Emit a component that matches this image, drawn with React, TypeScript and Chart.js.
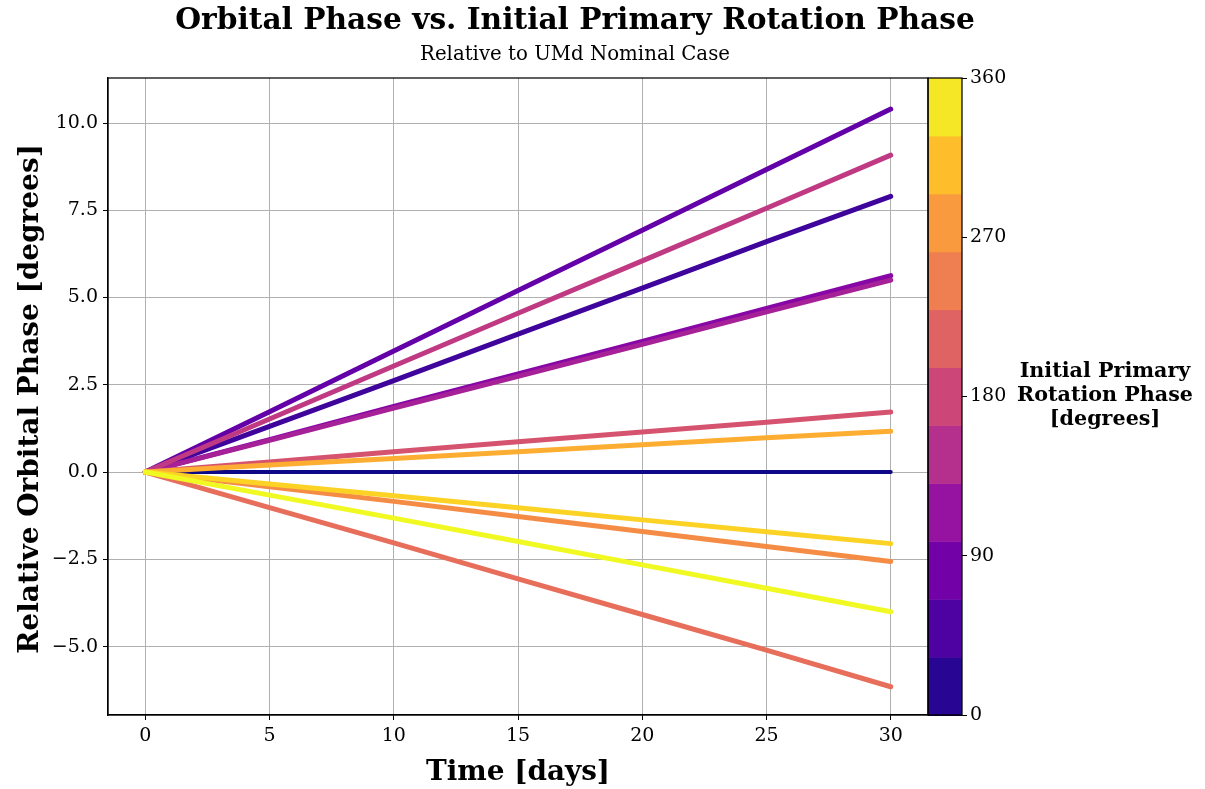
import React, { useEffect, useRef } from "react";
import { Chart, registerables } from "chart.js";

Chart.register(...registerables);

// ---- data ----
const days = [0, 5, 10, 15, 20, 25, 30];

const phase00 = [0, 0, 0, 0, 0, 0, 0];
const phase033 = [0, 1.31, 2.62, 3.95, 5.27, 6.6, 7.9];
const phase065 = [0, 1.73, 3.47, 5.2, 6.93, 8.67, 10.4];
const phase098 = [0, 0.93, 1.88, 2.81, 3.74, 4.69, 5.63];
const phase131 = [0, 0.91, 1.83, 2.74, 3.66, 4.59, 5.5];
const phase164 = [0, 1.52, 3.04, 4.55, 6.05, 7.56, 9.08];
const phase196 = [0, 0.29, 0.58, 0.87, 1.15, 1.43, 1.72];
const phase229 = [0, -1.02, -2.03, -3.06, -4.08, -5.1, -6.15];
const phase262 = [0, -0.42, -0.84, -1.27, -1.7, -2.13, -2.56];
const phase295 = [0, 0.2, 0.39, 0.58, 0.78, 0.98, 1.17];
const phase327 = [0, -0.34, -0.68, -1.02, -1.37, -1.71, -2.05];
const phase360 = [0, -0.66, -1.32, -1.99, -2.66, -3.33, -4.0];

const seriesNames = ["0", "32.7", "65.5", "98.2", "130.9", "163.6", "196.4", "229.1", "261.8", "294.5", "327.3", "360"];
const lineColors = ["#0d0887", "#3e049c", "#6300a7", "#8606a6", "#a62098", "#c03a83", "#d5536f", "#e76e5b", "#f58c46", "#fdad32", "#fcd225", "#f0f921"];

const cbBounds = [0, 32.73, 65.45, 98.18, 130.91, 163.64, 196.36, 229.09, 261.82, 294.55, 327.27, 360];
const cbColors = ["#280592", "#4e02a2", "#7201a8", "#9613a1", "#b52f8c", "#cc4778", "#e06363", "#ef7e50", "#f99a3e", "#febd2a", "#f5e726"];
const cbTicks = [0, 90, 180, 270, 360];

const titleText = "Orbital Phase vs. Initial Primary Rotation Phase";
const subtitleText = "Relative to UMd Nominal Case";
const xTitle = "Time [days]";
const yTitle = "Relative Orbital Phase [degrees]";
const cbTitle = ["Initial Primary", "Rotation Phase", "[degrees]"];

const FONT = "'DejaVu Serif', 'Liberation Serif', serif";

export default function App() {
  const ref = useRef<HTMLCanvasElement>(null);

  useEffect(() => {
    const canvas = ref.current;
    if (!canvas) return;
    const allSeries = [phase00, phase033, phase065, phase098, phase131, phase164, phase196, phase229, phase262, phase295, phase327, phase360];

    const datasets = allSeries.map((vals, i) => ({
      label: seriesNames[i],
      data: days.map((d, j) => ({ x: d, y: vals[j] })),
      borderColor: lineColors[i],
      backgroundColor: lineColors[i],
      borderWidth: i === 0 ? 4 : 5,
      pointRadius: 0,
      fill: false,
      tension: 0,
      order: allSeries.length - i,
      borderCapStyle: "round" as const,
      borderJoinStyle: "round" as const,
    }));

    const fitSize = (ctx: CanvasRenderingContext2D, text: string, weight: string, target: number) => {
      ctx.font = `${weight} 100px ${FONT}`;
      const w = ctx.measureText(text).width;
      return (100 * target) / w;
    };

    const deco = {
      id: "deco",
      afterDraw(chart: any) {
        const { ctx, chartArea: a } = chart;
        const cb = chart.scales.cb;
        ctx.save();
        const x0 = a.right;
        const x1 = a.right + 34;
        for (let i = 0; i < cbColors.length; i++) {
          const yTop = cb.getPixelForValue(cbBounds[i + 1]);
          const yBot = cb.getPixelForValue(cbBounds[i]);
          ctx.fillStyle = cbColors[i];
          ctx.fillRect(x0, yTop, x1 - x0, yBot - yTop + 0.5);
        }
        ctx.strokeStyle = "#000";
        ctx.lineWidth = 1.25;
        ctx.strokeRect(x0, a.top, x1 - x0, a.bottom - a.top);
        ctx.strokeRect(a.left, a.top, a.right - a.left, a.bottom - a.top);

        ctx.fillStyle = "#000";
        ctx.textAlign = "center";
        ctx.textBaseline = "alphabetic";
        // title
        let s = fitSize(ctx, titleText, "bold", 800);
        ctx.font = `bold ${s}px ${FONT}`;
        ctx.fillText(titleText, 575, 29);
        s = fitSize(ctx, subtitleText, "normal", 310);
        ctx.font = `normal ${s}px ${FONT}`;
        ctx.fillText(subtitleText, 575, 60);
        // x title
        s = fitSize(ctx, xTitle, "bold", 184);
        ctx.font = `bold ${s}px ${FONT}`;
        ctx.fillText(xTitle, (a.left + a.right) / 2, 780);
        // y title
        s = fitSize(ctx, yTitle, "bold", 510);
        ctx.font = `bold ${s}px ${FONT}`;
        ctx.save();
        ctx.translate(38, 399);
        ctx.rotate(-Math.PI / 2);
        ctx.fillText(yTitle, 0, 0);
        ctx.restore();
        // colorbar title
        s = fitSize(ctx, cbTitle[1], "bold", 176);
        ctx.font = `bold ${s}px ${FONT}`;
        ctx.fillText(cbTitle[0], 1105, 377);
        ctx.fillText(cbTitle[1], 1105, 401);
        ctx.fillText(cbTitle[2], 1105, 425);
        ctx.restore();
      },
    };

    const tickFont = { family: FONT, size: 19 };
    const fmtMinus = (v: number, digits: number) => {
      const t = Math.abs(v) < 1e-9 ? (0).toFixed(digits) : v.toFixed(digits);
      return t.replace("-", "\u2212");
    };

    const chart = new Chart(canvas, {
      type: "line",
      data: { datasets },
      plugins: [deco],
      options: {
        animation: false,
        responsive: false,
        devicePixelRatio: 1,
        layout: { padding: { top: 78, right: 177, bottom: 0, left: 0 } },
        plugins: {
          legend: { display: false },
          tooltip: { enabled: false },
          title: { display: false },
        },
        scales: {
          x: {
            type: "linear",
            min: -1.5,
            max: 31.5,
            afterFit: (sc: any) => {
              sc.height = 74;
            },
            ticks: {
              stepSize: 5,
              includeBounds: false,
              color: "#000",
              font: tickFont,
              padding: 5,
              maxRotation: 0,
              callback: (v: any) => fmtMinus(Number(v), 0),
            },
            grid: {
              color: "#b0b0b0",
              lineWidth: 1,
              tickColor: "#000",
              tickLength: 5,
              tickWidth: 1,
            },
            border: { display: true, color: "#000", width: 1.25 },
          },
          y: {
            type: "linear",
            position: "left",
            min: -6.96,
            max: 11.29,
            afterFit: (sc: any) => {
              sc.width = 108;
            },
            ticks: {
              stepSize: 2.5,
              includeBounds: false,
              color: "#000",
              font: tickFont,
              padding: 5,
              callback: (v: any) => fmtMinus(Number(v), 1),
            },
            grid: {
              color: "#b0b0b0",
              lineWidth: 1,
              tickColor: "#000",
              tickLength: 5,
              tickWidth: 1,
            },
            border: { display: true, color: "#000", width: 1.25 },
          },
          cb: {
            type: "linear",
            position: "right",
            min: 0,
            max: 360,
            afterFit: (sc: any) => {
              sc.width = 100;
            },
            afterBuildTicks: (sc: any) => {
              sc.ticks = cbTicks.map((v) => ({ value: v }));
            },
            ticks: {
              color: "#000",
              font: tickFont,
              padding: 3,
              callback: (v: any) => String(v),
            },
            grid: {
              drawOnChartArea: false,
              tickColor: "#000",
              tickLength: 39,
              tickWidth: 1,
            },
            border: { display: false },
          },
        },
      },
    } as any);

    return () => {
      chart.destroy();
    };
  }, []);

  return (
    <div style={{ position: "absolute", left: 0, top: 0, width: 1205, height: 789, background: "#fff" }}>
      <canvas ref={ref} width={1205} height={789} style={{ display: "block", width: 1205, height: 789 }} />
    </div>
  );
}
